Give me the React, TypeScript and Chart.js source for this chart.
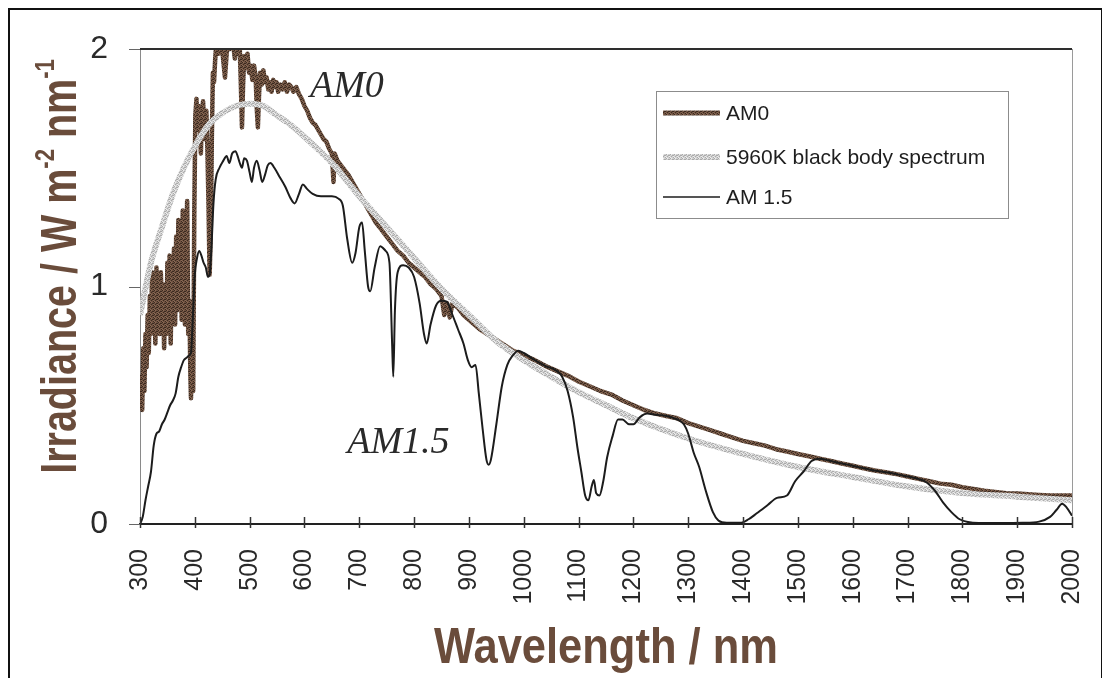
import React, { useEffect, useRef } from "react";
import { Chart, registerables } from "chart.js";

Chart.register(...registerables);

// ---------- data ----------
const xTickValues = [300, 400, 500, 600, 700, 800, 900, 1000, 1100, 1200, 1300, 1400, 1500, 1600, 1700, 1800, 1900, 2000];
const yTickValues = [0, 1, 2];
const yTickLabels = ["0", "1", "2"];
const seriesNames = ["AM0", "5960K black body spectrum", "AM 1.5"];

const am0Wavelengths = [
  300, 302, 304, 306, 308, 310, 312, 314, 316, 318, 320, 322, 324, 326, 328, 330, 332, 334, 336, 338,
  340, 342, 344, 346, 348, 350, 352, 354, 356, 358, 360, 362, 364, 366, 368, 370, 372, 374, 376, 378,
  380, 382, 384, 386, 388, 390, 392, 393, 395, 397, 399, 401, 403, 405, 407, 409, 411, 413, 415, 417,
  419, 421, 423, 425, 427, 429, 431, 433, 435, 437, 440, 443, 446, 449, 452, 455, 458, 461, 464, 467,
  470, 473, 476, 479, 482, 484, 486, 488, 490, 493, 496, 499, 502, 505, 508, 511, 513, 515, 517, 519,
  522, 525, 528, 531, 534, 537, 540, 543, 546, 549, 552, 556, 560, 564, 568, 572, 576, 580, 585, 590,
  595, 600, 605, 610, 615, 620, 625, 630, 635, 640, 645, 650, 653, 655, 660, 670, 680, 690, 700, 710,
  720, 730, 740, 750, 760, 770, 780, 790, 800, 810, 820, 830, 840, 850, 855, 860, 865, 870, 880, 890,
  900, 920, 940, 960, 980, 1000, 1020, 1040, 1060, 1080, 1100, 1120, 1140, 1160, 1180, 1200, 1220, 1240, 1260, 1280,
  1300, 1320, 1340, 1360, 1380, 1400, 1420, 1440, 1460, 1480, 1500, 1520, 1540, 1560, 1580, 1600, 1620, 1640, 1660, 1680,
  1700, 1720, 1740, 1760, 1780, 1800, 1820, 1840, 1860, 1880, 1900, 1920, 1940, 1960, 1980, 2000,
];
const am0Values = [
  0.50, 0.62, 0.48, 0.74, 0.56, 0.80, 0.66, 0.88, 0.72, 0.96, 0.80, 1.06, 0.86, 1.02, 0.76, 1.08, 0.88, 1.03, 0.80, 1.06,
  0.90, 1.01, 0.74, 0.96, 0.80, 1.10, 0.86, 1.13, 0.76, 1.08, 0.94, 1.16, 0.84, 1.21, 0.90, 1.28, 1.04, 1.18, 0.86, 1.32,
  1.06, 0.84, 1.12, 1.36, 0.80, 0.94, 0.62, 0.53, 0.92, 0.56, 1.30, 1.72, 1.79, 1.66, 1.76, 1.70, 1.56, 1.72, 1.78, 1.68,
  1.62, 1.74, 1.58, 1.34, 1.05, 1.22, 1.62, 1.90, 1.86, 1.95, 2.05, 1.98, 2.05, 2.02, 1.95, 1.88, 1.98, 2.05, 2.00, 2.05,
  2.02, 1.96, 2.03, 1.98, 2.00, 1.85, 1.67, 1.85, 1.97, 1.92, 1.98, 1.90, 1.93, 1.87, 1.93, 1.88, 1.75, 1.67, 1.80, 1.90,
  1.85, 1.91, 1.86, 1.88, 1.83, 1.86, 1.82, 1.87, 1.84, 1.86, 1.82, 1.85, 1.83, 1.86, 1.82, 1.85, 1.84, 1.82, 1.84, 1.81,
  1.79, 1.76, 1.74, 1.71, 1.69, 1.68, 1.66, 1.64, 1.62, 1.61, 1.58, 1.56, 1.44, 1.56, 1.53, 1.50, 1.47, 1.43, 1.39, 1.35,
  1.31, 1.27, 1.24, 1.21, 1.18, 1.15, 1.13, 1.10, 1.08, 1.06, 1.04, 1.01, 0.99, 0.96, 0.88, 0.93, 0.87, 0.93, 0.91, 0.88,
  0.86, 0.82, 0.79, 0.76, 0.73, 0.71, 0.69, 0.665, 0.645, 0.625, 0.60, 0.58, 0.56, 0.545, 0.52, 0.50, 0.48, 0.465, 0.455, 0.445,
  0.425, 0.41, 0.395, 0.38, 0.365, 0.35, 0.34, 0.33, 0.315, 0.305, 0.295, 0.285, 0.275, 0.265, 0.255, 0.245, 0.235, 0.225, 0.218, 0.21,
  0.20, 0.19, 0.18, 0.17, 0.165, 0.155, 0.148, 0.14, 0.135, 0.13, 0.128, 0.125, 0.122, 0.12, 0.12, 0.12,
];

const blackbodyWavelengths = [
  300, 320, 340, 360, 380, 400, 425, 450, 475, 500, 525, 550, 575, 600, 650, 700, 750, 800, 850, 900,
  950, 1000, 1050, 1100, 1150, 1200, 1300, 1400, 1500, 1600, 1700, 1800, 1900, 2000,
];
const blackbodyValues = [
  0.88, 1.10, 1.25, 1.39, 1.50, 1.59, 1.68, 1.73, 1.76, 1.77, 1.76, 1.72, 1.68, 1.63, 1.52, 1.38, 1.25, 1.12, 0.99, 0.88,
  0.77, 0.69, 0.62, 0.555, 0.50, 0.445, 0.36, 0.295, 0.24, 0.198, 0.158, 0.13, 0.115, 0.10,
];

const am15Wavelengths = [
  300, 305, 310, 315, 320, 325, 330, 335, 340, 345, 350, 355, 360, 365, 370, 375, 380, 385, 390, 393,
  396, 400, 404, 408, 412, 416, 420, 424, 427, 430, 434, 438, 445, 452, 458, 463, 468, 474, 478, 482,
  486, 490, 495, 500, 504, 508, 513, 518, 523, 528, 533, 538, 545, 555, 565, 575, 582, 590, 597, 605,
  615, 630, 650, 662, 670, 678, 687, 693, 700, 705, 710, 716, 720, 728, 738, 748, 755, 760, 762, 765,
  770, 780, 790, 800, 810, 818, 823, 830, 840, 850, 860, 870, 880, 890, 898, 905, 912, 918, 925, 932,
  936, 940, 950, 960, 970, 980, 990, 1000, 1020, 1040, 1060, 1070, 1080, 1090, 1098, 1105, 1112, 1118, 1124, 1128,
  1132, 1138, 1145, 1152, 1162, 1172, 1180, 1192, 1200, 1212, 1225, 1240, 1260, 1280, 1292, 1300, 1310, 1320, 1332, 1345,
  1355, 1370, 1395, 1410, 1425, 1445, 1462, 1480, 1495, 1510, 1525, 1540, 1560, 1580, 1600, 1620, 1640, 1660, 1680, 1700,
  1720, 1735, 1750, 1765, 1780, 1795, 1810, 1830, 1870, 1910, 1940, 1960, 1972, 1982, 1990, 2000,
];
const am15Values = [
  0.0, 0.03, 0.10, 0.16, 0.22, 0.33, 0.38, 0.39, 0.42, 0.44, 0.47, 0.50, 0.52, 0.55, 0.62, 0.66, 0.69, 0.70, 0.71, 0.72,
  0.85, 1.05, 1.12, 1.15, 1.13, 1.10, 1.08, 1.04, 1.05, 1.15, 1.35, 1.45, 1.50, 1.53, 1.55, 1.52, 1.56, 1.57, 1.55, 1.52,
  1.50, 1.54, 1.53, 1.48, 1.44, 1.50, 1.53, 1.49, 1.44, 1.47, 1.51, 1.52, 1.50, 1.46, 1.42, 1.37, 1.35, 1.39, 1.43, 1.41,
  1.39, 1.38, 1.38, 1.37, 1.34, 1.20, 1.10, 1.14, 1.25, 1.27, 1.15, 1.00, 0.98, 1.08, 1.17, 1.15, 1.10, 0.75, 0.62, 0.90,
  1.06, 1.09, 1.08, 1.04, 0.93, 0.80, 0.76, 0.84, 0.92, 0.94, 0.935, 0.88, 0.82, 0.76, 0.69, 0.66, 0.67, 0.55, 0.40, 0.27,
  0.25, 0.27, 0.42, 0.58, 0.67, 0.71, 0.73, 0.72, 0.69, 0.665, 0.645, 0.62, 0.56, 0.45, 0.32, 0.22, 0.12, 0.10, 0.16, 0.185,
  0.13, 0.12, 0.18, 0.28, 0.37, 0.44, 0.44, 0.42, 0.42, 0.45, 0.465, 0.46, 0.455, 0.44, 0.42, 0.38, 0.30, 0.24, 0.14, 0.05,
  0.015, 0.005, 0.005, 0.02, 0.045, 0.08, 0.11, 0.12, 0.18, 0.22, 0.265, 0.275, 0.265, 0.255, 0.245, 0.235, 0.225, 0.218, 0.21, 0.20,
  0.19, 0.175, 0.14, 0.09, 0.05, 0.02, 0.008, 0.004, 0.004, 0.005, 0.01, 0.03, 0.06, 0.085, 0.07, 0.035,
];

// in-plot labels (text + data coordinates)
const plotLabels = [
  { text: "AM0", wl: 610, val: 1.8 },
  { text: "AM1.5", wl: 678, val: 0.3 },
];

// ---------- helpers ----------
const SANS = '"Liberation Sans", Arial, Helvetica, sans-serif';
const SERIF = '"Liberation Serif", "Times New Roman", serif';
const TITLE_BROWN = "#6a4c3b";

function makePattern(base: string, dark: string, light: string) {
  const c = document.createElement("canvas");
  c.width = 4;
  c.height = 4;
  const g = c.getContext("2d")!;
  g.fillStyle = base;
  g.fillRect(0, 0, 4, 4);
  g.fillStyle = dark;
  [[0, 0], [2, 1], [1, 2], [3, 3], [3, 1]].forEach(([x, y]) => g.fillRect(x, y, 1, 1));
  g.fillStyle = light;
  [[1, 0], [3, 2], [0, 3]].forEach(([x, y]) => g.fillRect(x, y, 1, 1));
  return g.createPattern(c, "repeat")!;
}

function toPoints(xs: number[], ys: number[]) {
  return xs.map((x, i) => ({ x, y: ys[i] }));
}

export default function App() {
  const ref = useRef<HTMLCanvasElement>(null);

  useEffect(() => {
    document.documentElement.style.overflow = "hidden";
    document.body.style.overflow = "hidden";
    const canvas = ref.current!;
    const brown = makePattern("#6f5241", "#3a2a20", "#8a6a55");
    const gray = makePattern("#d2d2d2", "#ababab", "#eeeeee");

    const decor = {
      id: "decor",
      afterDraw(chart: any) {
        const { ctx, chartArea: a, scales } = chart;
        const xs = scales.x;
        const ys = scales.y;
        ctx.save();
        const line = (x1: number, y1: number, x2: number, y2: number) => {
          ctx.beginPath();
          ctx.moveTo(x1, y1);
          ctx.lineTo(x2, y2);
          ctx.stroke();
        };
        // top frame line
        ctx.strokeStyle = "#2e2e2e";
        ctx.lineWidth = 2;
        line(a.left, a.top, a.right, a.top);
        // right frame line
        ctx.strokeStyle = "#9a9a9a";
        ctx.lineWidth = 1;
        line(a.right + 0.5, a.top, a.right + 0.5, a.bottom);
        // x ticks
        ctx.strokeStyle = "#333";
        ctx.lineWidth = 1.5;
        xTickValues.forEach((v) => {
          const px = Math.round(xs.getPixelForValue(v)) + 0.5;
          line(px, a.bottom - 7, px, a.bottom + 4);
        });
        // y ticks
        ctx.strokeStyle = "#666";
        ctx.lineWidth = 1;
        yTickValues.forEach((v) => {
          const py = Math.round(ys.getPixelForValue(v)) + 0.5;
          line(a.left - 11, py, a.left, py);
        });

        // in-plot labels
        ctx.fillStyle = "#2a2a2a";
        ctx.font = `italic 38px ${SERIF}`;
        ctx.textBaseline = "alphabetic";
        ctx.textAlign = "left";
        plotLabels.forEach((l) => {
          ctx.fillText(l.text, xs.getPixelForValue(l.wl), ys.getPixelForValue(l.val));
        });

        // legend
        const bx = a.left + 516;
        const by = a.top + 42;
        const bw = 352;
        const bh = 127;
        ctx.strokeStyle = "#8c8c8c";
        ctx.lineWidth = 1;
        ctx.strokeRect(bx + 0.5, by + 0.5, bw, bh);
        const rows = [
          { y: by + 22, stroke: brown, w: 5 },
          { y: by + 66, stroke: gray, w: 6 },
          { y: by + 106, stroke: "#1c1c1c", w: 1.5 },
        ];
        ctx.font = `21px ${SANS}`;
        ctx.textBaseline = "middle";
        rows.forEach((r, i) => {
          ctx.strokeStyle = r.stroke;
          ctx.lineWidth = r.w;
          line(bx + 7, r.y, bx + 64, r.y);
          ctx.fillStyle = "#1e1e1e";
          ctx.fillText(seriesNames[i], bx + 70, r.y + 1);
        });

        // x title
        ctx.fillStyle = TITLE_BROWN;
        ctx.font = `bold 50px ${SANS}`;
        ctx.textBaseline = "alphabetic";
        const xt = "Wavelength / nm";
        const xsx = 0.87;
        const xw = ctx.measureText(xt).width * xsx;
        ctx.save();
        ctx.translate((a.left + a.right) / 2 - xw / 2, a.bottom + 139);
        ctx.scale(xsx, 1);
        ctx.fillText(xt, 0, 0);
        ctx.restore();

        // y title with superscripts
        const runs = [
          { t: "Irradiance / W m", sup: false },
          { t: "-2", sup: true },
          { t: " nm", sup: false },
          { t: "-1", sup: true },
        ];
        const big = `bold 50px ${SANS}`;
        const small = `bold 28px ${SANS}`;
        let total = 0;
        runs.forEach((r) => {
          ctx.font = r.sup ? small : big;
          total += ctx.measureText(r.t).width;
        });
        const ysx = 0.79;
        ctx.save();
        ctx.translate(66, (a.top + a.bottom) / 2 - 20);
        ctx.rotate(-Math.PI / 2);
        ctx.scale(ysx, 1);
        let cx = -total / 2;
        runs.forEach((r) => {
          ctx.font = r.sup ? small : big;
          ctx.fillText(r.t, cx, r.sup ? -22 : 0);
          cx += ctx.measureText(r.t).width;
        });
        ctx.restore();

        ctx.restore();
      },
    };

    const chart = new Chart(canvas, {
      type: "line",
      data: {
        datasets: [
          {
            label: seriesNames[0],
            data: toPoints(am0Wavelengths, am0Values),
            borderColor: brown as any,
            borderWidth: 4.5,
            pointRadius: 0,
            tension: 0,
            borderJoinStyle: "round",
            order: 3,
          },
          {
            label: seriesNames[1],
            data: toPoints(blackbodyWavelengths, blackbodyValues),
            borderColor: gray as any,
            borderWidth: 6,
            pointRadius: 0,
            cubicInterpolationMode: "monotone",
            order: 2,
          },
          {
            label: seriesNames[2],
            data: toPoints(am15Wavelengths, am15Values),
            borderColor: "#1c1c1c",
            borderWidth: 2,
            pointRadius: 0,
            cubicInterpolationMode: "monotone",
            order: 1,
          },
        ],
      },
      options: {
        animation: false,
        responsive: false,
        devicePixelRatio: 1,
        layout: { padding: { top: 39, right: 29, left: 0, bottom: 0 } },
        plugins: { legend: { display: false }, tooltip: { enabled: false } },
        scales: {
          x: {
            type: "linear",
            min: 300,
            max: 2000,
            grid: { display: false },
            border: { display: true, color: "#222", width: 2 },
            afterBuildTicks: (s: any) => {
              s.ticks = xTickValues.map((v) => ({ value: v }));
            },
            ticks: {
              autoSkip: false,
              minRotation: 90,
              maxRotation: 90,
              padding: 17,
              color: "#2a2a2a",
              font: { family: SANS, size: 25 },
              callback: (v: any) => String(v),
            },
            afterFit: (s: any) => {
              s.height = 154;
              s.paddingLeft = 0;
              s.paddingRight = 0;
            },
          },
          y: {
            type: "linear",
            min: 0,
            max: 2,
            grid: { display: false },
            border: { display: true, color: "#8a8a8a", width: 1 },
            afterBuildTicks: (s: any) => {
              s.ticks = yTickValues.map((v) => ({ value: v }));
            },
            ticks: {
              padding: 24,
              color: "#2a2a2a",
              font: { family: SANS, size: 32 },
              callback: (v: any) => yTickLabels[yTickValues.indexOf(Number(v))] ?? String(v),
            },
            afterFit: (s: any) => {
              s.width = 130;
              s.paddingTop = 0;
              s.paddingBottom = 0;
            },
          },
        },
      } as any,
      plugins: [decor],
    });
    return () => chart.destroy();
  }, []);

  return (
    <div
      style={{
        position: "relative",
        boxSizing: "border-box",
        width: 1095,
        height: 670,
        borderTop: "2px solid #111",
        borderLeft: "2px solid #111",
        borderRight: "2px solid #111",
        background: "#fff",
      }}
    >
      <canvas ref={ref} width={1091} height={668} style={{ display: "block", width: 1091, height: 668 }} />
    </div>
  );
}
